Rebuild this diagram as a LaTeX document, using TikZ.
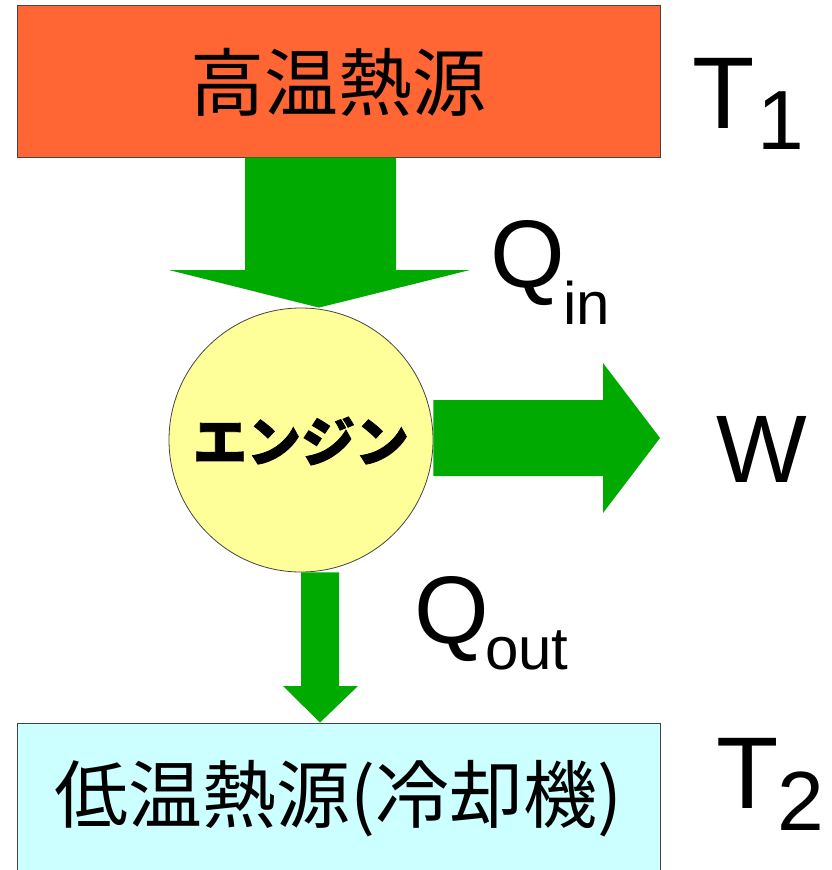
\documentclass[tikz,border=0pt]{standalone}
\usepackage{fontspec}
\setmainfont{Liberation Sans}
\newfontfamily\cjk{Noto Sans CJK JP}
\newfontfamily\cjkheavy[BoldFeatures={FakeBold=1.5}]{Noto Sans CJK JP}
\usetikzlibrary{calc}
\definecolor{hotc}{HTML}{FF6633}
\definecolor{coldc}{HTML}{CCFFFF}
\definecolor{engc}{HTML}{FFFF99}
\definecolor{arrc}{HTML}{00AA00}
\definecolor{edgec}{HTML}{444444}
\tikzset{
  reservoir/.style={draw=edgec, line width=0.9pt, inner sep=0pt, minimum width=643pt},
  engine/.style={circle, draw=edgec, line width=0.8pt, fill=engc, minimum size=264pt, inner sep=0pt},
  blockarrow/.style={fill=arrc, draw=none},
  biglabel/.style={inner sep=0pt, anchor=base west, font=\fontsize{96}{96}\selectfont},
  sublabel/.style={inner sep=0pt, anchor=base west, font=\fontsize{60}{60}\selectfont},
  tlabel/.style={inner sep=0pt, anchor=base west, font=\fontsize{102}{102}\selectfont},
  tsub/.style={inner sep=0pt, anchor=base west, font=\fontsize{84}{84}\selectfont},
}
\begin{document}
\begin{tikzpicture}[x=1pt, y=-1pt]
\useasboundingbox (0,0) rectangle (832,870);
\begin{scope}
\clip (0,0) rectangle (832,870);
% reservoirs
\node[reservoir, fill=hotc, minimum height=152pt] (hot) at (339.2,81.2) {};
\node[reservoir, fill=coldc, minimum height=160pt] (cold) at (339.2,803) {};
\node[inner sep=0pt, font=\cjk\fontsize{74}{74}\selectfont] (hottxt) at (338.5,82) {高温熱源};
\node[inner sep=0pt, font=\cjk\fontsize{74}{74}\selectfont] (coldtxt) at (338.5,799) {低温熱源(冷却機)};
% engine
\node[engine] (eng) at (301,440) {};
\node[inner sep=0pt, font=\cjkheavy\bfseries\fontsize{54}{54}\selectfont] (engtxt) at (301,441) {エンジン};
% Q_in arrow: from hot box to engine
\fill[blockarrow] (245,0 |- hot.south) -- (245,270) -- (169,270) -- (319,0 |- eng.north)
  -- (470,270) -- (396,270) -- (396,0 |- hot.south) -- cycle;
% W arrow: from engine to free end
\coordinate (wend) at (660,438);
\fill[blockarrow] (eng.east |- 0,400) -- (603,400) -- (603,363) -- (wend)
  -- (603,513) -- (603,476) -- (eng.east |- 0,476) -- cycle;
% Q_out arrow: from engine to cold box
\fill[blockarrow] (301,0 |- eng.south) -- (301,686) -- (283,686) -- (320,0 |- cold.north)
  -- (358,686) -- (339,686) -- (339,0 |- eng.south) -- cycle;
\end{scope}
% labels
\node[tlabel] (t1) at (692,128) {T};
\node[tsub] (t1s) at (757,149) {1};
\node[tlabel] (t2) at (716,808) {T};
\node[tsub] (t2s) at (777,830) {2};
\node[biglabel] (qin) at (490,287) {Q};
\node[sublabel] (qins) at (563,324) {in};
\node[biglabel] (qout) at (414,643) {Q};
\node[sublabel] (qouts) at (485,669) {out};
\node[biglabel] (w) at (716,482) {W};
\end{tikzpicture}
\end{document}
